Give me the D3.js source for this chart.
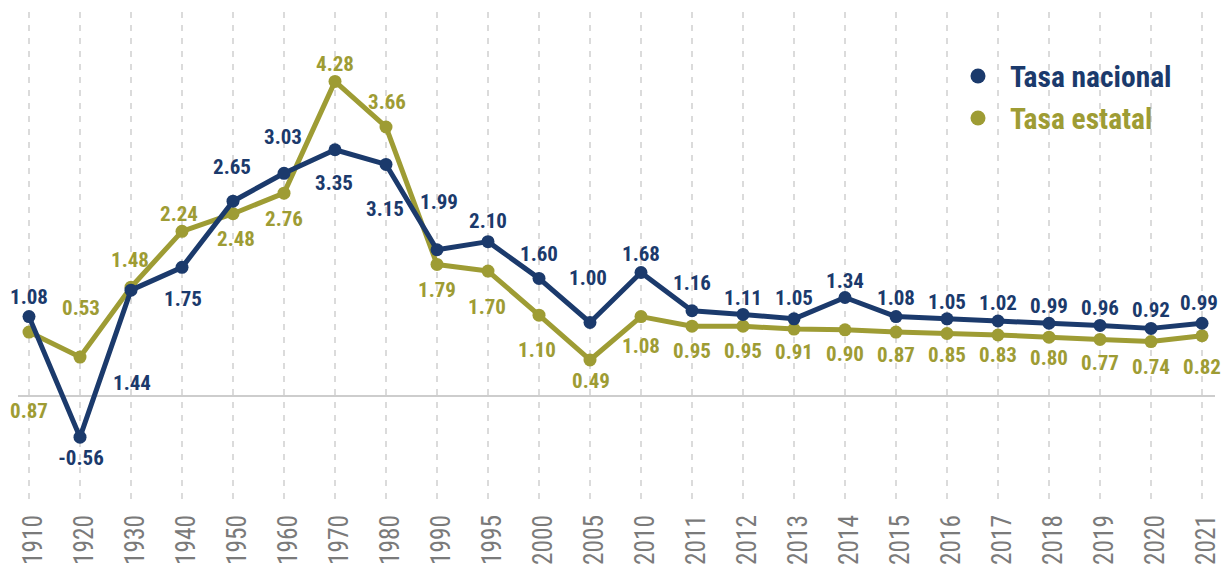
<!DOCTYPE html>
<html lang="es">
<head>
<meta charset="utf-8">
<script src="https://cdn.jsdelivr.net/npm/d3@7"></script>
<style>
  html, body { margin: 0; padding: 0; background: #ffffff; }
  svg { display: block; }
  .cond { font-family: "Roboto Condensed", "Liberation Sans Narrow", "DejaVu Sans Condensed", "Arial Narrow", Roboto, sans-serif; font-stretch: condensed; }
</style>
</head>
<body>
<svg id="chart" width="1227" height="567"></svg>
<script>
// Periods on the horizontal axis
const years = ["1910","1920","1930","1940","1950","1960","1970","1980","1990","1995","2000","2005",
               "2010","2011","2012","2013","2014","2015","2016","2017","2018","2019","2020","2021"];

// Growth rates (%)
const tasaNacional = [1.08,-0.56,1.44,1.75,2.65,3.03,3.35,3.15,1.99,2.10,1.60,1.00,
                      1.68,1.16,1.11,1.05,1.34,1.08,1.05,1.02,0.99,0.96,0.92,0.99];
const tasaEstatal  = [0.87,0.53,1.48,2.24,2.48,2.76,4.28,3.66,1.79,1.70,1.10,0.49,
                      1.08,0.95,0.95,0.91,0.90,0.87,0.85,0.83,0.80,0.77,0.74,0.82];

const seriesNames = ["Tasa nacional", "Tasa estatal"];

// Label placement relative to each point: [dx, dy to text baseline]
const nacionalLabelOffset = [[0,-13],[1,28],[1,100],[1,39],[-1,-27],[-1,-29],[-1,40],[-1,52],
                             [2,-41],[0,-14],[0,-17],[-2,-37],[0,-12],[0,-21],[0,-9],[0,-14],
                             [0,-10],[0,-12],[0,-10],[0,-11],[0,-10],[0,-10],[0,-11],[-3,-13]];
const estatalLabelOffset  = [[0,86],[1,-42],[-1,-20],[-3,-10],[3,32],[0,33],[0,-10],[1,-18],
                             [0,33],[-1,43],[-2,42],[1,28],[0,36],[0,32],[0,32],[0,30],
                             [0,31],[0,30],[0,28],[0,27],[0,28],[0,31],[0,32],[0,38]];

const colNacional = "#1b3a6c";
const colEstatal  = "#9e9c34";

const svg = d3.select("#chart");

const x = d3.scalePoint().domain(years).range([29, 1202]);
const y = d3.scaleLinear().domain([0, 4.28]).range([396, 81.4]);

// Vertical dashed guides at every period
svg.append("g")
  .selectAll("line")
  .data(years)
  .join("line")
  .attr("x1", d => x(d)).attr("x2", d => x(d))
  .attr("y1", 12).attr("y2", 506)
  .attr("stroke", "#c4c4c4")
  .attr("stroke-width", 1.2)
  .attr("stroke-dasharray", "6,7");

// Zero reference line
svg.append("line")
  .attr("x1", 18).attr("x2", 1215)
  .attr("y1", y(0)).attr("y2", y(0))
  .attr("stroke", "#bdbdbd")
  .attr("stroke-width", 1.5);

// Rotated period labels
const xAxis = svg.append("g")
  .attr("transform", "translate(0,515)")
  .call(d3.axisBottom(x).tickSize(0).tickPadding(0));
xAxis.select(".domain").remove();
xAxis.selectAll("text")
  .attr("class", "cond")
  .attr("transform", "rotate(-90)")
  .attr("text-anchor", "end")
  .attr("x", 0)
  .attr("y", 12)
  .attr("dy", 0)
  .attr("textLength", 50)
  .attr("lengthAdjust", "spacingAndGlyphs")
  .attr("fill", "#7a7a7a")
  .style("font-size", "28px")
  .style("font-weight", "400");

const series = [
  { name: seriesNames[0], values: tasaNacional, color: colNacional, offsets: nacionalLabelOffset },
  { name: seriesNames[1], values: tasaEstatal,  color: colEstatal,  offsets: estatalLabelOffset }
];

const line = d3.line()
  .x((d, i) => x(years[i]))
  .y(d => y(d));

// Draw state series first so the national series sits on top
[series[1], series[0]].forEach(s => {
  const g = svg.append("g");
  g.append("path")
    .datum(s.values)
    .attr("d", line)
    .attr("fill", "none")
    .attr("stroke", s.color)
    .attr("stroke-width", 5)
    .attr("stroke-linejoin", "round");
  g.selectAll("circle")
    .data(s.values)
    .join("circle")
    .attr("cx", (d, i) => x(years[i]))
    .attr("cy", d => y(d))
    .attr("r", 6.5)
    .attr("fill", s.color);
});

series.forEach(s => {
  svg.append("g")
    .selectAll("text")
    .data(s.values)
    .join("text")
    .attr("class", "cond")
    .attr("x", (d, i) => x(years[i]) + s.offsets[i][0])
    .attr("y", (d, i) => y(d) + s.offsets[i][1])
    .attr("text-anchor", "middle")
    .attr("fill", s.color)
    .style("font-size", "21px")
    .style("font-weight", "700")
    .text(d => d.toFixed(2));
});

// Legend
const legend = svg.append("g");
series.forEach((s, i) => {
  const cy = 76 + i * 42;
  legend.append("circle")
    .attr("cx", 978).attr("cy", cy).attr("r", 7.5)
    .attr("fill", s.color);
  legend.append("text")
    .attr("class", "cond")
    .attr("x", 1010).attr("y", cy + 11)
    .attr("fill", s.color)
    .style("font-size", "29.5px")
    .style("font-weight", "700")
    .text(s.name);
});
</script>
</body>
</html>
